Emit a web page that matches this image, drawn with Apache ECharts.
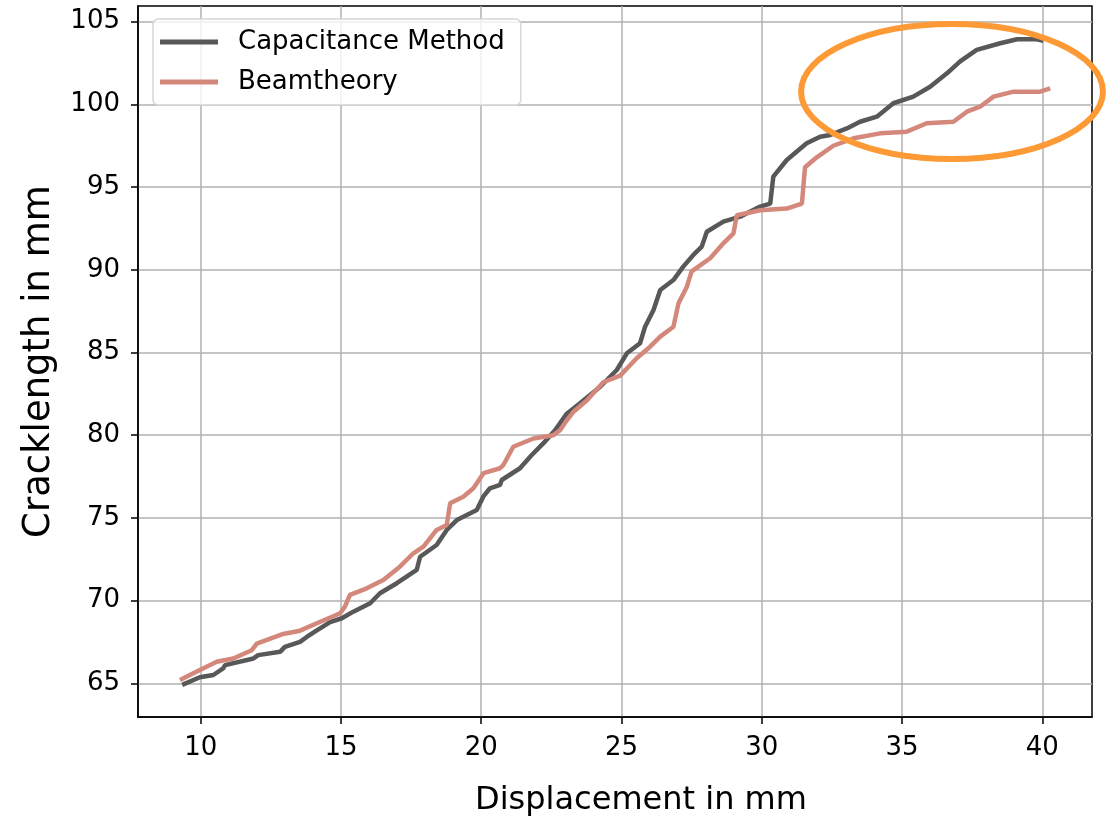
<!DOCTYPE html>
<html>
<head>
<meta charset="utf-8">
<script src="https://cdn.jsdelivr.net/npm/echarts@6/dist/echarts.min.js"></script>
<style>
  html, body { margin: 0; padding: 0; background: #fff; }
  #main { width: 1107px; height: 819px; }
</style>
</head>
<body>
<div id="main"></div>
<script>
// Capacitance Method
var capX = [9.34, 9.97, 10.45, 10.8, 10.87, 11.88, 12.05, 12.83, 13.0, 13.54, 13.78, 14.14, 14.61, 15.03, 15.44, 16.04, 16.39, 16.99, 17.7, 17.82, 18.41, 18.77, 19.13, 19.84, 20.07, 20.31, 20.67, 20.73, 21.38, 21.8, 22.21, 22.63, 23.05, 23.52, 24.24, 24.83, 25.19, 25.66, 25.84, 26.14, 26.38, 26.85, 27.2, 27.56, 27.86, 28.04, 28.63, 29.23, 29.94, 30.3, 30.41, 30.89, 31.6, 32.08, 32.44, 33.03, 33.5, 34.1, 34.69, 35.4, 36.0, 36.6, 37.07, 37.66, 38.5, 39.1, 39.8, 40.04];
var capY = [64.9, 65.36, 65.5, 65.9, 66.1, 66.5, 66.7, 66.9, 67.2, 67.5, 67.8, 68.2, 68.7, 68.93, 69.33, 69.84, 70.44, 71.05, 71.85, 72.65, 73.36, 74.27, 74.87, 75.48, 76.28, 76.79, 76.99, 77.29, 78.0, 78.8, 79.5, 80.3, 81.3, 81.93, 82.93, 83.94, 84.95, 85.56, 86.56, 87.57, 88.78, 89.38, 90.19, 90.9, 91.4, 92.3, 92.91, 93.21, 93.82, 94.0, 95.63, 96.64, 97.65, 98.05, 98.15, 98.55, 98.95, 99.26, 100.07, 100.47, 101.07, 101.88, 102.6, 103.3, 103.7, 103.94, 103.94, 103.85];
// Beamtheory
var beamX = [9.26, 9.97, 10.57, 11.16, 11.82, 12.0, 12.94, 13.54, 14.14, 14.97, 15.14, 15.32, 15.92, 16.51, 17.1, 17.58, 17.94, 18.41, 18.77, 18.89, 19.36, 19.72, 20.08, 20.67, 20.79, 21.14, 21.86, 22.57, 22.81, 23.05, 23.28, 23.76, 24.35, 24.95, 25.54, 26.02, 26.38, 26.85, 27.03, 27.33, 27.5, 28.16, 28.63, 28.99, 29.11, 29.94, 30.89, 31.43, 31.54, 31.96, 32.55, 33.27, 34.22, 35.17, 35.88, 36.83, 37.31, 37.78, 38.26, 38.97, 39.92, 40.28];
var beamY = [65.2, 65.8, 66.3, 66.5, 67.0, 67.4, 67.98, 68.18, 68.63, 69.23, 69.63, 70.34, 70.74, 71.24, 72.05, 72.86, 73.26, 74.27, 74.57, 75.88, 76.28, 76.79, 77.7, 78.0, 78.2, 79.3, 79.8, 80.0, 80.3, 80.9, 81.4, 82.1, 83.2, 83.6, 84.65, 85.35, 85.96, 86.56, 87.97, 88.98, 89.9, 90.7, 91.6, 92.2, 93.3, 93.6, 93.7, 94.0, 96.2, 96.8, 97.5, 97.95, 98.25, 98.35, 98.86, 98.95, 99.56, 99.86, 100.47, 100.77, 100.77, 100.97];

var xTicks = [10, 15, 20, 25, 30, 35, 40];
var yTicks = [65, 70, 75, 80, 85, 90, 95, 100, 105];

// highlighted region (data coords): centre and half widths
var ringCenter = [36.78, 100.78];
var ringHalf = [5.38, 4.08];

function zip(xs, ys) {
	var out = [];
	for (var i = 0; i < xs.length; i++) out.push([xs[i], ys[i]]);
	return out;
}

var dom = document.getElementById("main");
var myChart = echarts.init(dom);
var font = "DejaVu Sans";
var option = {
	animation: false,
	backgroundColor: '#fff',
	grid: {
		left: 138, right: 15, top: 6, bottom: 102,
		outerBoundsMode: 'none',
		containLabel: false,
		show: true,
		borderColor: '#000',
		borderWidth: 1.5
	},
	legend: {
		left: 153,
		top: 19,
		orient: 'vertical',
		icon: 'rect',
		itemWidth: 58,
		itemHeight: 5,
		itemGap: 14,
		padding: [10, 16, 10, 7],
		backgroundColor: 'rgba(255,255,255,0.8)',
		borderColor: '#d6d6d6',
		borderWidth: 1.5,
		borderRadius: 5,
		textStyle: {
			fontFamily: font,
			fontSize: 26,
			color: '#000',
			padding: [0, 0, 0, 15]
		},
		data: ['Capacitance Method', 'Beamtheory']
	},
	xAxis: {
		type: 'value',
		min: 7.765,
		max: 41.77,
		name: 'Displacement in mm',
		nameLocation: 'middle',
		nameGap: 68,
		nameTextStyle: { fontFamily: font, fontSize: 32, color: '#000', padding: [0, 0, 0, 52] },
		axisLine: { show: true, lineStyle: { color: '#000', width: 1.5 } },
		axisTick: { show: true, customValues: xTicks, length: 7, inside: false, lineStyle: { color: '#000', width: 1.5 } },
		axisLabel: { customValues: xTicks, fontFamily: font, fontSize: 26, color: '#000', margin: 18 },
		splitLine: { show: true, lineStyle: { color: '#b0b0b0', width: 1.5 } }
	},
	yAxis: {
		type: 'value',
		min: 62.96,
		max: 105.95,
		name: 'Cracklength in mm',
		nameLocation: 'middle',
		nameGap: 80,
		nameTextStyle: { fontFamily: font, fontSize: 37, color: '#000' },
		axisLine: { show: true, lineStyle: { color: '#000', width: 1.5 } },
		axisTick: { show: true, customValues: yTicks, length: 7, inside: false, lineStyle: { color: '#000', width: 1.5 } },
		axisLabel: { customValues: yTicks, fontFamily: font, fontSize: 26, color: '#000', margin: 18 },
		splitLine: { show: true, lineStyle: { color: '#b0b0b0', width: 1.5 } }
	},
	series: [
		{
			name: 'Capacitance Method',
			type: 'line',
			symbol: 'none',
			lineStyle: { color: '#585858', width: 4.5 },
			itemStyle: { color: '#585858' },
			data: zip(capX, capY),
			z: 3
		},
		{
			name: 'Beamtheory',
			type: 'line',
			symbol: 'none',
			lineStyle: { color: '#d4887b', width: 4.5 },
			itemStyle: { color: '#d4887b' },
			data: zip(beamX, beamY),
			z: 3
		}
	]
};
myChart.setOption(option, true);

// orange ellipse annotation
var c = myChart.convertToPixel({ gridIndex: 0 }, ringCenter);
var e = myChart.convertToPixel({ gridIndex: 0 }, [ringCenter[0] + ringHalf[0], ringCenter[1] + ringHalf[1]]);
myChart.setOption({
	graphic: [{
		type: 'ellipse',
		z: 100,
		shape: { cx: c[0], cy: c[1], rx: Math.abs(e[0] - c[0]), ry: Math.abs(e[1] - c[1]) },
		style: { fill: 'none', stroke: '#fd9a35', lineWidth: 6 }
	}]
});
</script>
</body>
</html>
